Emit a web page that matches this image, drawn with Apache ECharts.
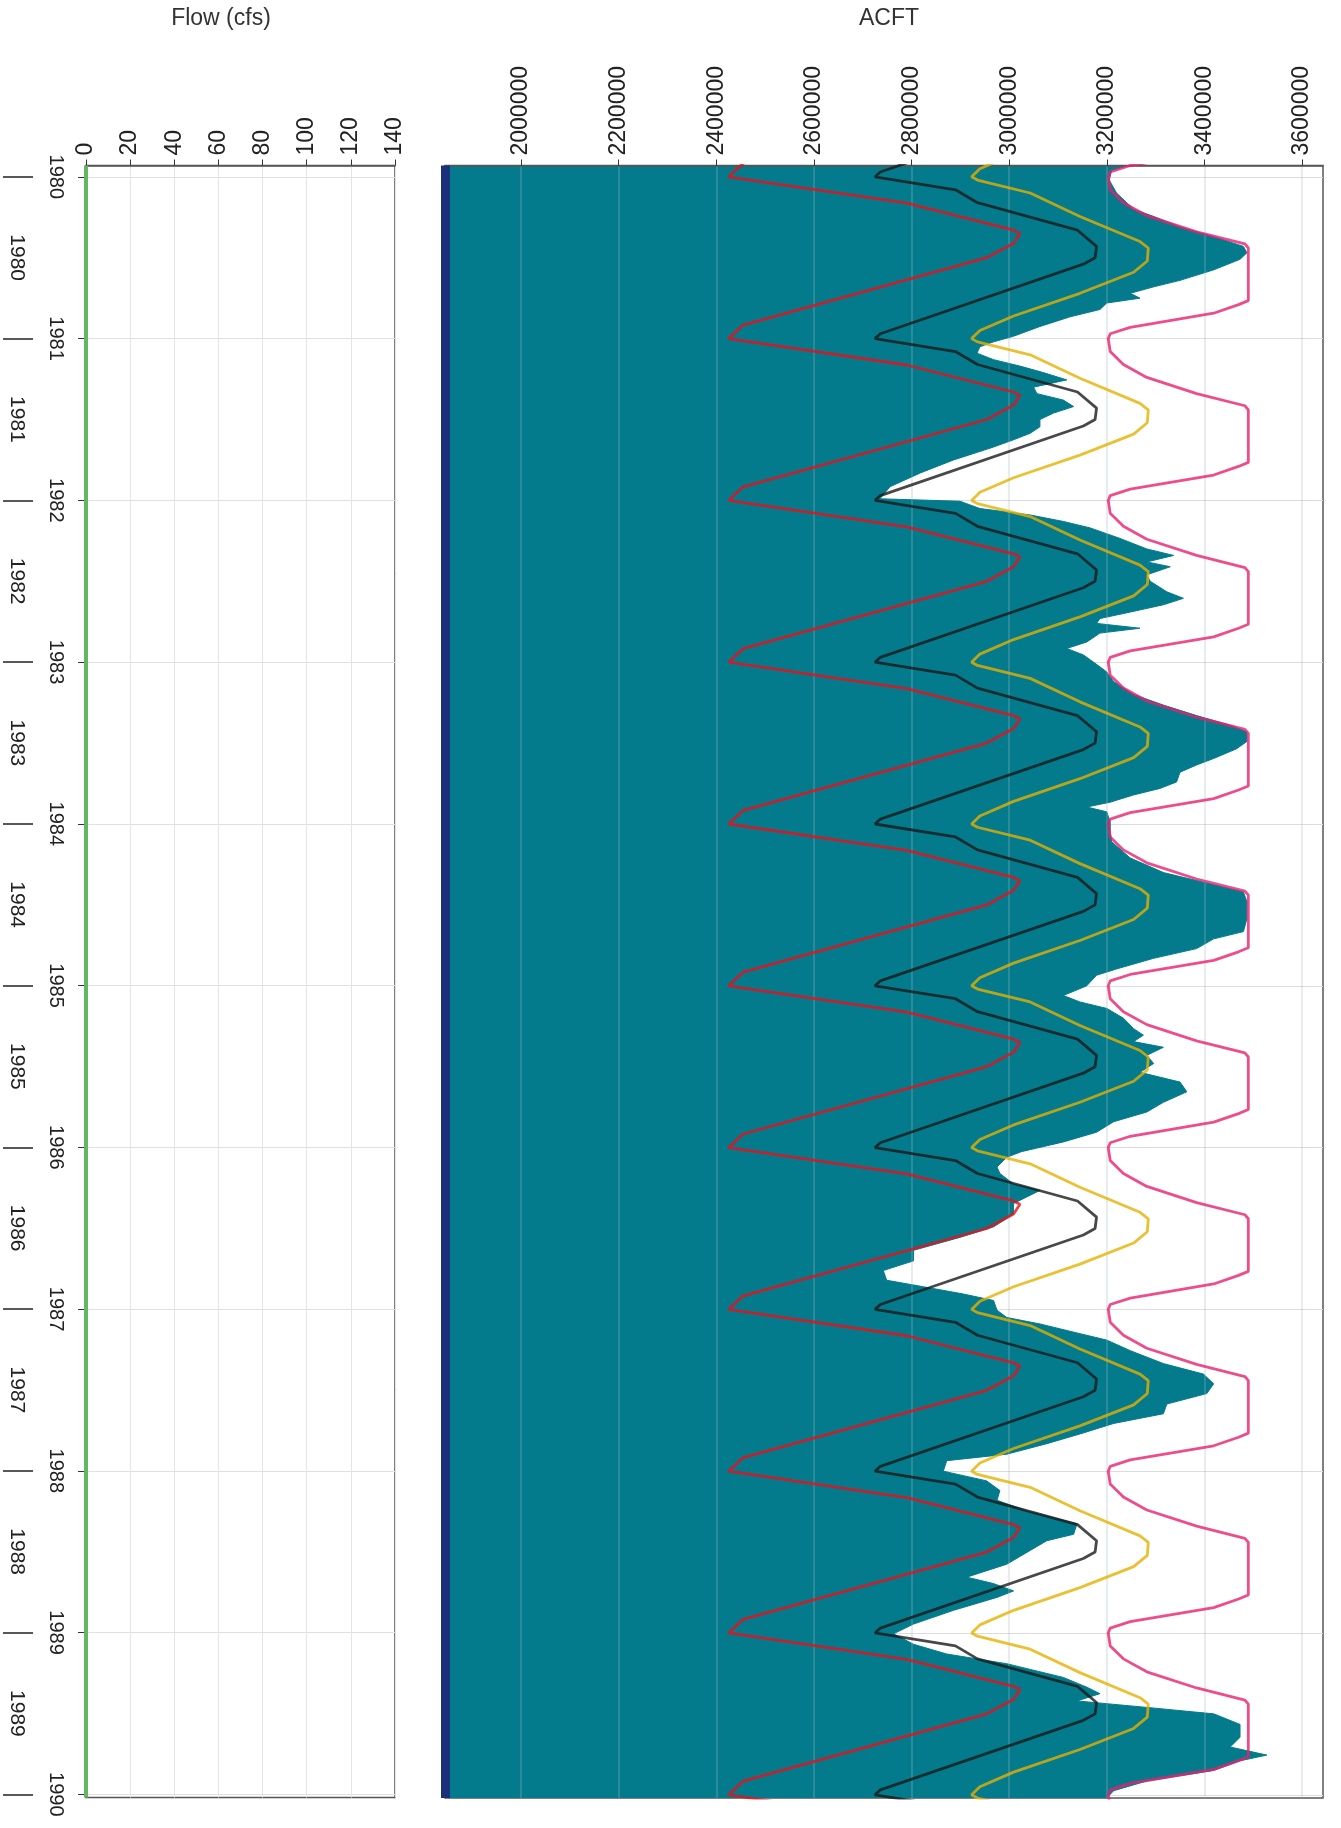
<!DOCTYPE html>
<html>
<head>
<meta charset="utf-8">
<title>Flow and storage 1980-1990</title>
<script src="https://cdn.jsdelivr.net/npm/echarts@6.0.0/dist/echarts.min.js"></script>
<style>
  html, body { margin: 0; padding: 0; background: #fff; }
  #chart { width: 1341px; height: 1828px; }
</style>
</head>
<body>
<div id="chart"></div>
<script>
// time runs down the page (decimal years), values run across
var yearTicks = [1980, 1981, 1982, 1983, 1984, 1985, 1986, 1987, 1988, 1989, 1990];
var midYears = [1980.5, 1981.5, 1982.5, 1983.5, 1984.5, 1985.5, 1986.5, 1987.5, 1988.5, 1989.5];
var flowTicks = [0, 20, 40, 60, 80, 100, 120, 140];
var acftTicks = [2000000, 2200000, 2400000, 2600000, 2800000, 3000000, 3200000, 3400000, 3600000];

// flow stays at zero the whole period
var flowYears = [1979.93, 1982, 1984, 1986, 1988, 1990.02];
var flowCfs = [0, 0, 0, 0, 0, 0];

// reservoir storage (ACFT)
var storageYears = [
  1979.93, 1979.96, 1980.02, 1980.10, 1980.16, 1980.20, 1980.245, 1980.31, 1980.37, 1980.43,
  1980.47, 1980.51, 1980.575, 1980.64, 1980.68, 1980.72, 1980.75, 1980.78, 1980.82, 1980.865,
  1980.925, 1980.985, 1981.02, 1981.05, 1981.09, 1981.13, 1981.17, 1981.21, 1981.255, 1981.30,
  1981.34, 1981.38, 1981.42, 1981.46, 1981.50, 1981.545, 1981.585, 1981.625, 1981.67, 1981.75,
  1981.83, 1981.915, 1981.99, 1982.005, 1982.05, 1982.09, 1982.13, 1982.17, 1982.235, 1982.30,
  1982.34, 1982.38, 1982.41, 1982.46, 1982.50, 1982.565, 1982.605, 1982.645, 1982.69, 1982.73,
  1982.76, 1982.79, 1982.82, 1982.875, 1982.915, 1982.955, 1983.00, 1983.06, 1983.12, 1983.20,
  1983.265, 1983.33, 1983.39, 1983.43, 1983.49, 1983.535, 1983.595, 1983.635, 1983.68, 1983.74,
  1983.78, 1983.82, 1983.865, 1983.895, 1983.925, 1983.99, 1984.05, 1984.11, 1984.21, 1984.30,
  1984.36, 1984.42, 1984.48, 1984.585, 1984.665, 1984.71, 1984.77, 1984.83, 1984.895, 1984.935,
  1985.00, 1985.06, 1985.10, 1985.14, 1985.20, 1985.265, 1985.305, 1985.345, 1985.38, 1985.43,
  1985.48, 1985.535, 1985.595, 1985.655, 1985.72, 1985.78, 1985.84, 1985.905, 1985.965, 1986.025,
  1986.06, 1986.12, 1986.16, 1986.225, 1986.265, 1986.305, 1986.345, 1986.41, 1986.49, 1986.555,
  1986.635, 1986.70, 1986.76, 1986.82, 1986.86, 1986.905, 1986.945, 1987.005, 1987.05, 1987.09,
  1987.15, 1987.19, 1987.255, 1987.335, 1987.40, 1987.46, 1987.52, 1987.585, 1987.645, 1987.705,
  1987.77, 1987.83, 1987.895, 1987.935, 1988.00, 1988.06, 1988.12, 1988.18, 1988.245, 1988.325,
  1988.39, 1988.43, 1988.49, 1988.575, 1988.655, 1988.695, 1988.74, 1988.78, 1988.86, 1988.945,
  1989.005, 1989.07, 1989.13, 1989.19, 1989.275, 1989.335, 1989.375, 1989.42, 1989.46, 1989.50,
  1989.565, 1989.645, 1989.705, 1989.755, 1989.79, 1989.85, 1989.915, 1989.975, 1990.02
];
var storageAcft = [
  3245000, 3210000, 3205000, 3220000, 3241000, 3255000, 3296000, 3350000, 3419000, 3480000,
  3487000, 3473000, 3419000, 3350000, 3296000, 3248000, 3268000, 3200000, 3186000, 3125000,
  3063000, 3009000, 2968000, 2940000, 2934000, 2968000, 3022000, 3070000, 3118000, 3050000,
  3057000, 3111000, 3132000, 3091000, 3063000, 3063000, 3043000, 3009000, 2968000, 2886000,
  2818000, 2756000, 2735000, 2899000, 2940000, 3043000, 3111000, 3166000, 3227000, 3282000,
  3337000, 3282000, 3330000, 3282000, 3289000, 3323000, 3357000, 3316000, 3248000, 3186000,
  3179000, 3268000, 3186000, 3159000, 3118000, 3152000, 3173000, 3200000, 3214000, 3255000,
  3316000, 3384000, 3453000, 3487000, 3487000, 3466000, 3419000, 3384000, 3350000, 3343000,
  3309000, 3255000, 3207000, 3159000, 3200000, 3207000, 3207000, 3210000, 3248000, 3316000,
  3398000, 3480000, 3487000, 3487000, 3480000, 3419000, 3384000, 3296000, 3221000, 3179000,
  3159000, 3111000, 3145000, 3200000, 3234000, 3255000, 3275000, 3255000, 3316000, 3282000,
  3296000, 3268000, 3350000, 3364000, 3316000, 3282000, 3214000, 3179000, 3111000, 3025000,
  2995000, 2975000, 2981000, 3009000, 3063000, 3036000, 3009000, 3009000, 2968000, 2899000,
  2804000, 2804000, 2742000, 2749000, 2824000, 2906000, 2968000, 2975000, 2995000, 3063000,
  3145000, 3200000, 3248000, 3316000, 3398000, 3419000, 3405000, 3323000, 3316000, 3214000,
  3145000, 3077000, 2995000, 2872000, 2865000, 2954000, 2981000, 2975000, 3036000, 3139000,
  3132000, 3077000, 3043000, 2995000, 2913000, 2968000, 3009000, 2975000, 2886000, 2804000,
  2763000, 2804000, 2872000, 2995000, 3111000, 3159000, 3186000, 3139000, 3282000, 3419000,
  3473000, 3473000, 3453000, 3528000, 3473000, 3419000, 3282000, 3214000, 3200000
];

// annual rule curves: offset within the year, value (ACFT)
var redOffsets = [0, 0.163, 0.33, 0.35, 0.41, 0.5, 0.916];
var redAcft = [2425000, 2790000, 3009000, 3022000, 3009000, 2954000, 2455000];
var blackOffsets = [0, 0.08, 0.16, 0.33, 0.43, 0.5, 0.54, 0.97];
var blackAcft = [2725000, 2890000, 2935000, 3140000, 3179000, 3176000, 3152000, 2736000];
var yellowOffsets = [0, 0.02, 0.10, 0.245, 0.40, 0.44, 0.52, 0.59, 0.72, 0.86, 0.95];
var yellowAcft = [2923000, 2935000, 3043000, 3145000, 3268000, 3285000, 3283000, 3255000, 3145000, 3009000, 2940000];
var pinkOffsets = [0, 0.08, 0.16, 0.24, 0.34, 0.415, 0.44, 0.765, 0.79, 0.843, 0.93, 0.97];
var pinkAcft = [3203000, 3207000, 3234000, 3282000, 3384000, 3483000, 3490000, 3490000, 3470000, 3419000, 3248000, 3207000];

var FONT = 'Liberation Sans, Arial, sans-serif';
var tMin = 1979.93, tMax = 1990.02;
var acftMin = 1844000, acftMax = 3643000;

function pairs(years, vals) {
  return years.map(function (y, i) { return [vals[i], y]; });
}
function yearly(offsets, vals) {
  var out = [];
  for (var yr = 1979; yr <= 1990; yr++) {
    offsets.forEach(function (o, i) { out.push([vals[i], yr + o]); });
  }
  return out;
}
function yearOf(v) { return String(Math.floor(v + 1e-6)); }
function plain(v) { return String(v); }

function timeAxis(grid, extra) {
  var ax = {
    type: 'value', gridIndex: grid, inverse: true, position: 'left',
    min: tMin, max: tMax, minInterval: 1, maxInterval: 1,
    axisLine: { show: false },
    axisTick: { show: false, customValues: yearTicks },
    axisLabel: { show: false },
    splitLine: { show: false }
  };
  for (var k in extra) ax[k] = extra[k];
  return ax;
}

function rule(data, color) {
  return {
    type: 'line', xAxisIndex: 1, yAxisIndex: 2, data: data,
    symbol: 'none', z: 5,
    lineStyle: { color: color, width: 2.8, opacity: 0.8 }
  };
}

var storageData = pairs(storageYears, storageAcft);

var chart = echarts.init(document.getElementById('chart'));
chart.setOption({
  animation: false,
  backgroundColor: '#fff',
  graphic: [
    { type: 'text', x: 221, y: 7, style: { text: 'Flow (cfs)', textAlign: 'center', fontSize: 23, fontFamily: FONT, fill: '#333' } },
    { type: 'text', x: 889, y: 7, style: { text: 'ACFT', textAlign: 'center', fontSize: 23, fontFamily: FONT, fill: '#333' } }
  ],
  grid: [
    { left: 86, top: 165.5, width: 309, height: 1632, show: true, borderColor: '#555', borderWidth: 1.5 },
    { left: 445, top: 165.5, width: 878, height: 1632.5, show: true, borderColor: '#555', borderWidth: 1.5 }
  ],
  xAxis: [
    {
      type: 'value', gridIndex: 0, position: 'top', min: 0, max: 140, interval: 20,
      axisLine: { show: true, lineStyle: { color: '#555', width: 1.5 } },
      axisTick: { show: true, length: 6, lineStyle: { color: '#333' } },
      axisLabel: { rotate: -90, margin: 10, fontSize: 23, fontFamily: FONT, color: '#222', formatter: plain },
      splitLine: { show: true, lineStyle: { color: '#e4e4e4' } }
    },
    {
      type: 'value', gridIndex: 1, position: 'top', min: acftMin, max: acftMax,
      minInterval: 200000, maxInterval: 200000, z: 3,
      axisLine: { show: true, lineStyle: { color: '#555', width: 1.5 } },
      axisTick: { show: true, length: 6, customValues: acftTicks, lineStyle: { color: '#333' } },
      axisLabel: { rotate: -90, margin: 10, fontSize: 23, fontFamily: FONT, color: '#222', customValues: acftTicks, formatter: plain },
      splitLine: { show: true, lineStyle: { color: 'rgba(160,185,190,0.35)', width: 1.5 } }
    }
  ],
  yAxis: [
    timeAxis(0, {
      axisLine: { show: true, lineStyle: { color: '#555', width: 1.5 } },
      axisTick: { show: true, length: 8, customValues: yearTicks, lineStyle: { color: '#333' } },
      axisLabel: { show: true, customValues: yearTicks, rotate: -90, margin: 20, fontSize: 20, fontFamily: FONT, color: '#222', formatter: yearOf },
      splitLine: { show: true, lineStyle: { color: '#e0e0e0' } }
    }),
    timeAxis(0, {
      offset: 53,
      axisTick: { show: true, length: 30, customValues: yearTicks, lineStyle: { color: '#222', width: 1.5 } },
      axisLabel: { show: true, customValues: midYears, rotate: -90, margin: 6, fontSize: 21, fontFamily: FONT, color: '#222', formatter: yearOf }
    }),
    timeAxis(1, {
      splitLine: { show: true, lineStyle: { color: '#dcdcdc' } }
    }),
    timeAxis(1, {
      z: 4,
      axisLine: { show: true, lineStyle: { color: '#1b2f7a', width: 9, cap: 'butt' } }
    })
  ],
  series: [
    {
      name: 'Flow', type: 'line', xAxisIndex: 0, yAxisIndex: 0,
      data: pairs(flowYears, flowCfs), symbol: 'none', clip: false, z: 5,
      lineStyle: { color: '#62b862', width: 4 }
    },
    {
      // storage filled from the left edge of the axis to the value
      name: 'Storage', type: 'custom', xAxisIndex: 1, yAxisIndex: 2, z: 2,
      data: storageData, clip: true,
      renderItem: function (params, api) {
        if (params.dataIndex !== 0) return null;
        var pts = storageData.map(function (d) { return api.coord(d); });
        pts.unshift(api.coord([acftMin, storageYears[0]]));
        pts.push(api.coord([acftMin, storageYears[storageYears.length - 1]]));
        return {
          type: 'polygon',
          shape: { points: pts },
          style: { fill: '#047b8c', stroke: '#047b8c', lineWidth: 1 }
        };
      }
    },
    rule(yearly(redOffsets, redAcft), '#e8101c'),
    rule(yearly(blackOffsets, blackAcft), '#1a1a1a'),
    rule(yearly(yellowOffsets, yellowAcft), '#e6b000'),
    rule(yearly(pinkOffsets, pinkAcft), '#e8206e')
  ]
});
</script>
</body>
</html>
